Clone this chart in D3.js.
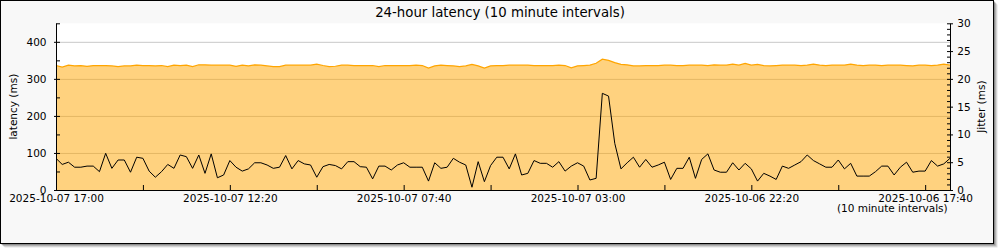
<!DOCTYPE html>
<html>
<head>
<meta charset="utf-8">
<script src="https://cdn.jsdelivr.net/npm/d3@7"></script>
<style>
  html, body { margin: 0; padding: 0; background: #ffffff; }
  svg { display: block; }
  text { font-family: "DejaVu Sans", sans-serif; fill: #000; }
</style>
</head>
<body>
<svg id="chart" width="1000" height="250"></svg>
<script>
// ---- data ----
const chartTitle = "24-hour latency (10 minute intervals)";
const leftAxisTitle = "latency (ms)";
const rightAxisTitle = "Jitter (ms)";
const xAxisNote = "(10 minute intervals)";

// interval index 0 = newest (2025-10-07 17:00), going back in time in 10 minute steps
const xTickIndex = [0, 14, 28, 42, 56, 70, 84, 98, 112, 126, 140];
const xTickLabels = {0: "2025-10-07 17:00", 28: "2025-10-07 12:20", 56: "2025-10-07 07:40",
                     84: "2025-10-07 03:00", 112: "2025-10-06 22:20", 140: "2025-10-06 17:40"};
const leftTicks = [0, 50, 100, 150, 200, 250, 300, 350, 400, 450];
const leftTickLabels = [0, 100, 200, 300, 400];
const rightTicks = d3.range(0, 31, 1);
const rightTickLabels = [0, 5, 10, 15, 20, 25, 30];
const gridValues = [100, 200, 300, 400];

// latency (ms), left axis
const latency = [
  336,332,337,335,336,334,336,336,336,335,333,335,335,337,336,336,335,336,333,337,336,337,333,338,338,
  337,337,337,337,334,337,335,338,337,335,333,333,337,337,337,337,337,340,336,333,334,337,337,336,
  336,336,336,333,336,336,336,336,336,337,336,329,335,337,336,335,333,335,339,335,329,335,336,
  336,337,337,337,337,336,336,336,336,337,336,330,335,336,337,342,353,350,344,339,338,335,335,336,336,336,
  337,337,336,336,337,337,337,336,338,337,337,340,337,342,337,339,336,335,336,337,337,337,336,337,
  340,337,336,337,337,337,340,337,336,337,337,336,337,337,337,336,335,337,337,336,337,340,337
];

// jitter (ms), right axis
const jitter = [
  5.7,4.6,5.0,4.1,4.1,4.3,4.3,3.3,6.6,3.9,5.4,5.4,3.2,5.9,5.7,3.4,2.3,3.3,4.6,3.9,
  6.3,6.0,3.9,6.3,3.0,6.5,2.2,2.7,5.3,4.1,3.4,3.8,4.9,4.9,4.5,3.9,4.1,6.2,3.8,5.3,
  4.7,4.5,2.3,4.2,4.6,4.4,3.8,5.1,5.1,4.2,4.1,2.0,4.3,4.3,3.6,4.5,4.9,4.1,4.1,4.1,
  1.6,4.9,3.9,4.1,5.7,5.0,4.5,0.5,5.1,1.5,4.4,5.9,5.9,3.8,6.5,2.7,3.0,5.3,4.8,4.8,
  4.1,5.1,3.4,4.3,4.9,4.3,1.8,2.1,17.4,16.9,8.4,3.8,4.9,5.9,4.1,5.5,4.1,4.5,5.0,1.9,
  3.9,3.9,5.9,2.1,5.5,6.5,3.6,3.2,3.2,4.9,3.6,4.8,3.8,1.6,3.0,2.5,1.9,4.3,3.9,4.5,
  5.1,6.3,5.3,4.7,4.1,4.1,5.4,3.8,4.8,2.5,2.5,2.5,3.3,4.3,4.3,2.7,4.1,5.0,3.2,3.4,
  3.4,5.3,4.3,4.7,5.7
];

// ---- layout ----
const W = 1000, H = 250;
const plot = { left: 56, right: 950, top: 23.3, bottom: 190 };
const svg = d3.select("#chart");

const x = d3.scaleLinear().domain([0, latency.length - 1]).range([plot.left, plot.right]);
const yL = d3.scaleLinear().domain([0, 450]).range([plot.bottom, plot.top]);
const yR = d3.scaleLinear().domain([0, 30]).range([plot.bottom, plot.top]);

// frame shadow + frame
[[4, "#e2e2e2"], [3, "#c4c4c4"], [2, "#a0a0a0"], [1, "#7a7a7a"]].forEach(([o, c]) => {
  svg.append("rect").attr("x", 0.5 + o).attr("y", 0.5 + o).attr("width", 993).attr("height", 243)
    .attr("fill", c);
});
svg.append("rect").attr("x", 0.5).attr("y", 0.5).attr("width", 993).attr("height", 243)
  .attr("fill", "#f8f8f8").attr("stroke", "#000").attr("stroke-width", 1);

// plot background
svg.append("rect").attr("x", plot.left).attr("y", plot.top)
  .attr("width", plot.right - plot.left).attr("height", plot.bottom - plot.top).attr("fill", "#fff");

// grid
svg.append("g").selectAll("line").data(gridValues).join("line")
  .attr("x1", plot.left).attr("x2", plot.right)
  .attr("y1", d => yL(d) + 0.5).attr("y2", d => yL(d) + 0.5)
  .attr("stroke", "#c8c8c8").attr("stroke-width", 1);

// latency area
const idx = d3.range(latency.length);
svg.append("path").datum(idx)
  .attr("d", d3.area().x(i => x(i)).y0(yL(0)).y1(i => yL(latency[i])))
  .attr("fill", "#ffa500").attr("fill-opacity", 0.5);
svg.append("path").datum(idx)
  .attr("d", d3.line().x(i => x(i)).y(i => yL(latency[i])))
  .attr("fill", "none").attr("stroke", "#ffa500").attr("stroke-width", 1.2);

// jitter line
svg.append("path").datum(idx)
  .attr("d", d3.line().x(i => x(i)).y(i => yR(jitter[i])))
  .attr("fill", "none").attr("stroke", "#000").attr("stroke-width", 1);

// axes
function styleAxis(g) {
  g.attr("font-family", "DejaVu Sans").attr("font-size", 10.5);
  g.selectAll("path, line").attr("stroke", "#000");
  g.selectAll("text").attr("fill", "#000");
}

svg.append("g").attr("transform", `translate(0,${plot.bottom})`)
  .call(d3.axisBottom(x).tickValues(xTickIndex).tickSizeInner(-5).tickSizeOuter(0).tickPadding(5)
    .tickFormat(d => xTickLabels[d] || ""))
  .call(styleAxis);

svg.append("g").attr("transform", `translate(${plot.left},0)`)
  .call(d3.axisLeft(yL).tickValues(leftTicks).tickSizeInner(-4).tickSizeOuter(0).tickPadding(9.5)
    .tickFormat(d => leftTickLabels.includes(d) ? d : ""))
  .call(styleAxis);
svg.append("g").attr("transform", `translate(${plot.left},0)`)
  .call(d3.axisLeft(yL).tickValues(leftTickLabels).tickSizeInner(2).tickSizeOuter(0).tickFormat(""))
  .call(styleAxis);

svg.append("g").attr("transform", `translate(${plot.right},0)`)
  .call(d3.axisRight(yR).tickValues(rightTicks).tickSizeInner(-3).tickSizeOuter(0).tickFormat(""))
  .call(styleAxis);
svg.append("g").attr("transform", `translate(${plot.right},0)`)
  .call(d3.axisRight(yR).tickValues(rightTickLabels).tickSizeInner(3).tickSizeOuter(0).tickPadding(4.3))
  .call(styleAxis);

// titles
svg.append("text").attr("x", 500).attr("y", 17).attr("text-anchor", "middle")
  .attr("font-size", 13.3).text(chartTitle);
svg.append("text").attr("transform", `translate(16.5,${(plot.top + plot.bottom) / 2}) rotate(-90)`)
  .attr("text-anchor", "middle").attr("font-size", 10.5).text(leftAxisTitle);
svg.append("text").attr("transform", `translate(985,${(plot.top + plot.bottom) / 2}) rotate(-90)`)
  .attr("text-anchor", "middle").attr("font-size", 10.5).text(rightAxisTitle);
svg.append("text").attr("x", 947.7).attr("y", 212).attr("text-anchor", "end")
  .attr("font-size", 10.5).text(xAxisNote);
</script>
</body>
</html>
